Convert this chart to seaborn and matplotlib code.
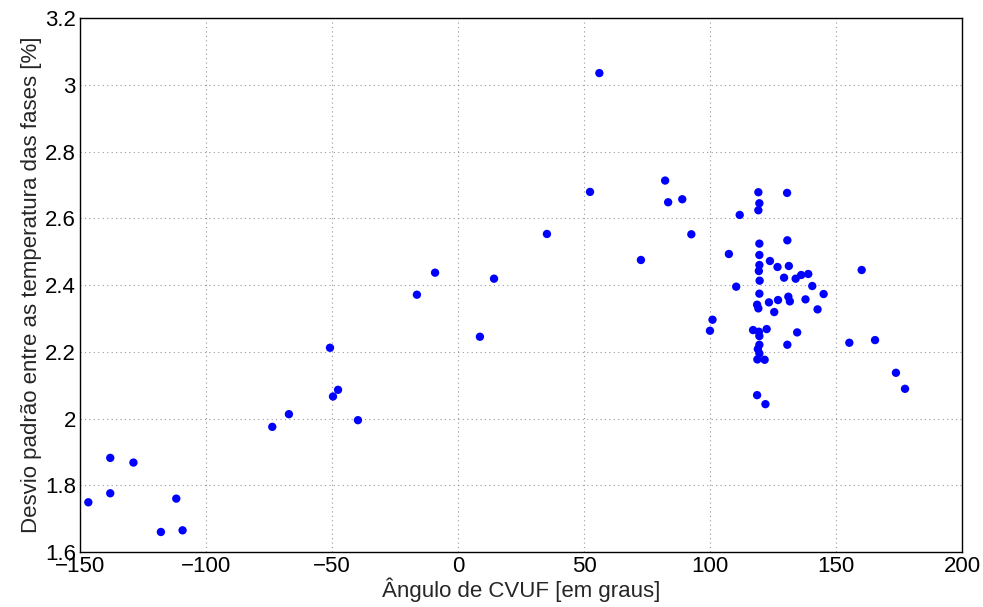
import matplotlib
matplotlib.use("Agg")
import matplotlib.pyplot as plt
import seaborn as sns
import pandas as pd

angle = [-146.7, -138.0, -138.0, -128.8, -117.9, -111.8, -109.3, -73.7, -67.1, -39.7,
         -50.8, -49.6, -47.6, -16.3, -9.1, 8.7, 14.3, 35.3, 52.4, 56.1,
         72.6, 82.2, 83.4, 89.0, 92.6, 111.8, 119.2, 119.6, 119.2, 130.6,
         119.6, 130.7, 107.5, 119.6, 123.8, 119.6, 126.8, 131.3, 119.4, 160.2,
         139.0, 136.2, 134.0, 129.4, 119.7, 110.4, 140.6, 145.1, 119.6, 131.1,
         131.7, 127.0, 123.4, 137.9, 118.7, 119.2, 142.7, 125.5, 101.0, 100.0,
         117.1, 122.5, 119.4, 119.6, 134.6, 155.3, 165.5, 130.7, 119.6, 119.0,
         119.6, 118.8, 121.7, 118.7, 122.0, 173.8, 177.4]
desvio = [1.749, 1.882, 1.776, 1.868, 1.660, 1.760, 1.665, 1.975, 2.013, 1.995,
          2.212, 2.066, 2.086, 2.371, 2.437, 2.245, 2.419, 2.553, 2.679, 3.035,
          2.475, 2.713, 2.648, 2.657, 2.552, 2.610, 2.678, 2.645, 2.624, 2.676,
          2.524, 2.534, 2.493, 2.490, 2.472, 2.460, 2.454, 2.457, 2.442, 2.445,
          2.433, 2.430, 2.419, 2.422, 2.413, 2.395, 2.397, 2.373, 2.374, 2.365,
          2.351, 2.355, 2.348, 2.357, 2.341, 2.330, 2.327, 2.319, 2.296, 2.263,
          2.265, 2.268, 2.260, 2.247, 2.258, 2.227, 2.235, 2.221, 2.221, 2.208,
          2.195, 2.177, 2.176, 2.070, 2.043, 2.137, 2.089]

xticks = [-150, -100, -50, 0, 50, 100, 150, 200]
yticks = [1.6, 1.8, 2.0, 2.2, 2.4, 2.6, 2.8, 3.0, 3.2]
yticklabels = ["1.6", "1.8", "2", "2.2", "2.4", "2.6", "2.8", "3", "3.2"]

sns.set_style("white")
plt.rcParams['font.family'] = ['Liberation Sans', 'DejaVu Sans']

df = pd.DataFrame({"angle": angle, "desvio": desvio})

fig = plt.figure(figsize=(9.83, 6.07), dpi=100)
ax = fig.add_axes([0.0814, 0.0906, 0.8972, 0.8797])
sns.scatterplot(data=df, x="angle", y="desvio", ax=ax, color="#0000ff",
                s=36, edgecolor="none", linewidth=0, zorder=3)

ax.set_xlim(-150, 200)
ax.set_ylim(1.6, 3.2)
ax.set_xticks(xticks)
ax.set_xticklabels([str(t).replace("-", "\u2212") for t in xticks])
ax.set_yticks(yticks)
ax.set_yticklabels(yticklabels)
ax.grid(True, linestyle=(0, (1, 3)), color="#999999", linewidth=0.8)
ax.tick_params(direction="in", length=5, width=0.8, labelsize=16, colors="black", pad=3)
for sp in ax.spines.values():
    sp.set_visible(True)
    sp.set_color("black")
    sp.set_linewidth(1.0)
ax.set_xlabel("Ângulo de CVUF [em graus]", fontsize=16, labelpad=0)
ax.set_ylabel("Desvio padrão entre as temperatura das fases [%]", fontsize=16, labelpad=2)

fig.savefig("out.png", dpi=100)
